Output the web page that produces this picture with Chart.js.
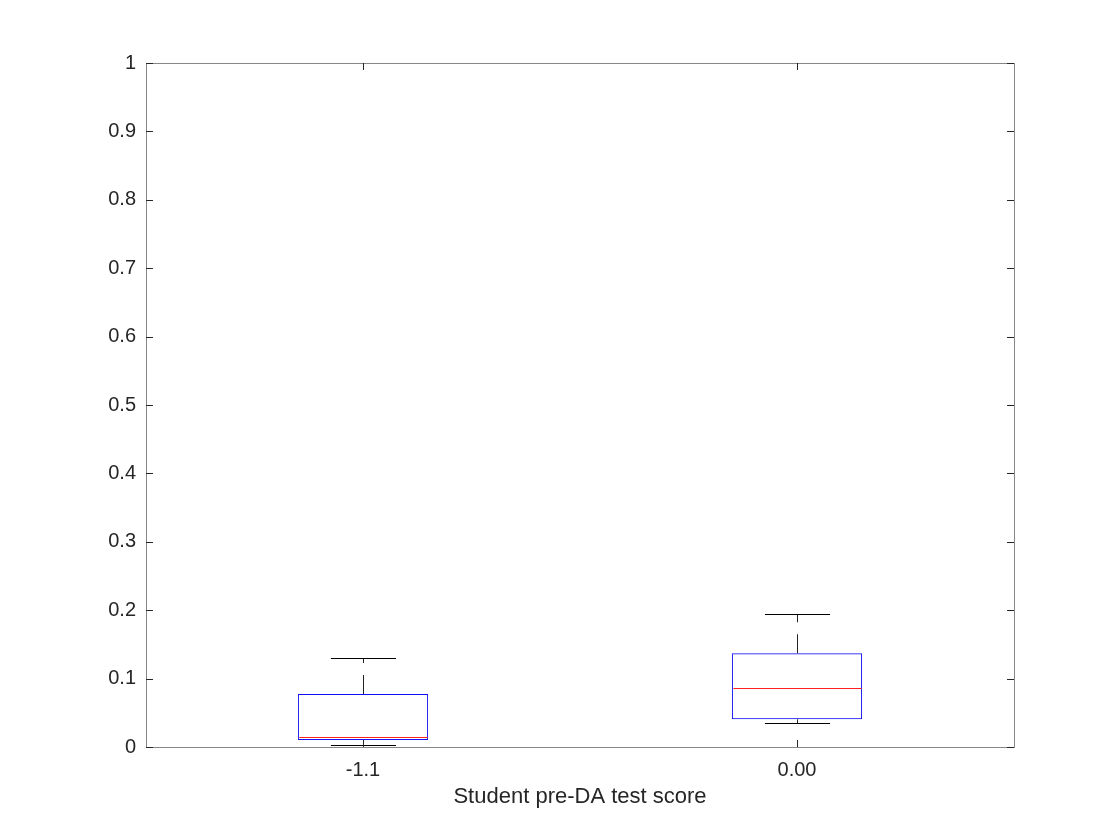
<!DOCTYPE html>
<html>
<head>
<meta charset="utf-8">
<title>Student pre-DA test score</title>
<script src="https://cdn.jsdelivr.net/npm/chart.js@4"></script>
<style>
    html, body { margin: 0; padding: 0; background: #ffffff; }
    canvas { display: block; }
</style>
</head>
<body>
<canvas id="boxChart" width="1120" height="840"></canvas>
<script>
// Box plot values
const categories = ['-1.1', '0.00'];
const whiskerLow = [0.0025, 0.035];
const quartileLow = [0.0102, 0.0405];
const medians = [0.0146, 0.0863];
const quartileHigh = [0.0775, 0.137];
const whiskerHigh = [0.1297, 0.194];
const yTicks = [0, 0.1, 0.2, 0.3, 0.4, 0.5, 0.6, 0.7, 0.8, 0.9, 1];

const textColor = '#262626';
const axisColor = '#878787';
const fontFamily = '"Liberation Sans", Arial, Helvetica, sans-serif';

document.addEventListener('DOMContentLoaded', () => {
    const canvas = document.getElementById('boxChart');

    // Median, whiskers, frame and inward ticks (MATLAB look)
    const boxExtras = {
        id: 'boxExtras',
        afterDatasetsDraw(chart) {
            const ctx = chart.ctx;
            const xScale = chart.scales.x;
            const yScale = chart.scales.y;
            const bars = chart.getDatasetMeta(0).data;

            ctx.save();
            bars.forEach((bar, i) => {
                const x = Math.round(xScale.getPixelForValue(i)) + 0.5;
                const half = bar.width / 2;
                const capHalf = bar.width / 4;

                // whiskers
                ctx.strokeStyle = '#222222';
                ctx.lineWidth = 1;
                ctx.setLineDash([19, 12]);
                ctx.beginPath();
                ctx.moveTo(x, yScale.getPixelForValue(quartileHigh[i]));
                ctx.lineTo(x, yScale.getPixelForValue(whiskerHigh[i]));
                ctx.stroke();
                ctx.beginPath();
                ctx.moveTo(x, yScale.getPixelForValue(quartileLow[i]));
                ctx.lineTo(x, yScale.getPixelForValue(whiskerLow[i]));
                ctx.stroke();
                ctx.setLineDash([]);

                // caps
                ctx.strokeStyle = '#000000';
                [whiskerHigh[i], whiskerLow[i]].forEach(v => {
                    const y = Math.round(yScale.getPixelForValue(v)) + 0.5;
                    ctx.beginPath();
                    ctx.moveTo(x - capHalf, y);
                    ctx.lineTo(x + capHalf, y);
                    ctx.stroke();
                });

                // median
                const ym = Math.round(yScale.getPixelForValue(medians[i])) + 0.5;
                ctx.strokeStyle = '#ff2020';
                ctx.beginPath();
                ctx.moveTo(x - half + 1, ym);
                ctx.lineTo(x + half - 1, ym);
                ctx.stroke();
            });
            ctx.restore();
        },
        afterDraw(chart) {
            const ctx = chart.ctx;
            const area = chart.chartArea;
            const xScale = chart.scales.x;
            const yScale = chart.scales.y;
            const tick = 7;

            ctx.save();
            ctx.lineWidth = 1;
            ctx.strokeStyle = axisColor;
            ctx.strokeRect(area.left + 0.5, area.top + 0.5, area.right - area.left, area.bottom - area.top);

            ctx.strokeStyle = textColor;
            ctx.beginPath();
            yTicks.forEach(v => {
                const y = Math.round(yScale.getPixelForValue(v)) + 0.5;
                ctx.moveTo(area.left, y);
                ctx.lineTo(area.left + tick, y);
                ctx.moveTo(area.right, y);
                ctx.lineTo(area.right - tick, y);
            });
            categories.forEach((c, i) => {
                const x = Math.round(xScale.getPixelForValue(i)) + 0.5;
                ctx.moveTo(x, area.bottom);
                ctx.lineTo(x, area.bottom - tick);
                ctx.moveTo(x, area.top);
                ctx.lineTo(x, area.top + tick);
            });
            ctx.stroke();
            ctx.restore();
        }
    };

    new Chart(canvas, {
        type: 'bar',
        data: {
            labels: categories,
            datasets: [{
                label: 'IQR',
                data: categories.map((c, i) => [quartileLow[i], quartileHigh[i]]),
                backgroundColor: 'rgba(0, 0, 0, 0)',
                borderColor: '#1010f0',
                borderWidth: 1,
                borderSkipped: false,
                categoryPercentage: 1,
                barPercentage: 0.3
            }]
        },
        options: {
            responsive: false,
            animation: false,
            layout: {
                padding: { left: 0, top: 63, right: 106, bottom: 30 }
            },
            plugins: {
                legend: { display: false },
                tooltip: { enabled: false }
            },
            scales: {
                x: {
                    offset: true,
                    grid: { display: false, drawTicks: false },
                    border: { display: false },
                    ticks: {
                        color: textColor,
                        padding: 11,
                        maxRotation: 0,
                        font: { family: fontFamily, size: 20 }
                    },
                    title: {
                        display: true,
                        text: 'Student pre-DA test score',
                        color: textColor,
                        padding: 0,
                        font: { family: fontFamily, size: 22 }
                    },
                    afterFit: scale => { scale.height = 63; }
                },
                y: {
                    min: 0,
                    max: 1,
                    grid: { display: false, drawTicks: false },
                    border: { display: false },
                    ticks: {
                        color: textColor,
                        padding: 10,
                        stepSize: 0.1,
                        font: { family: fontFamily, size: 20 },
                        callback: v => String(Math.round(v * 10) / 10)
                    },
                    afterFit: scale => { scale.width = 146; }
                }
            }
        },
        plugins: [boxExtras]
    });
});
</script>
</body>
</html>
